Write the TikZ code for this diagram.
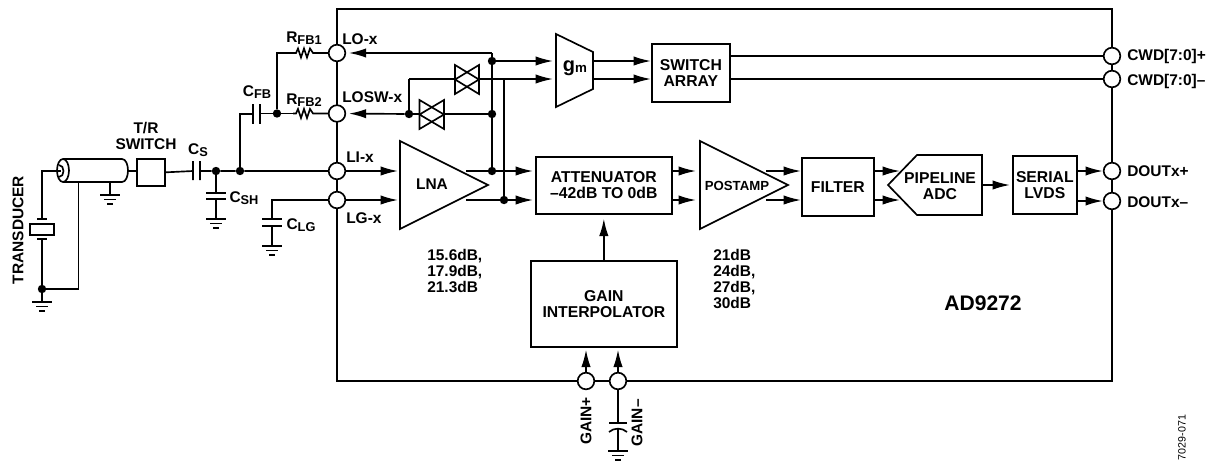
\documentclass[tikz,border=0pt]{standalone}
\usepackage{fontspec}
\setmainfont{Liberation Sans}
\usetikzlibrary{arrows.meta}
\tikzset{
 x=0.75pt,y=-0.75pt,
 wire/.style={line width=1.25pt,line join=miter},
 arr/.style={wire,-{Latex[length=13pt,width=7pt]}},
 blockbox/.style={draw,line width=1.25pt,inner sep=0,anchor=north west,align=center,font=\fontsize{11.8}{12}\selectfont\bfseries},
 pin/.style={circle,draw,fill=white,line width=1.25pt,minimum size=12.5pt,inner sep=0},
 dotn/.style={circle,fill=black,minimum size=6.3pt,inner sep=0},
 lab/.style={font=\fontsize{11.6}{12}\selectfont\bfseries,inner sep=0,align=center},
 labl/.style={lab,anchor=west,align=left},
 gnd/.pic={\draw[wire] (-10,0)--(10,0) (-6,4.5)--(6,4.5) (-3,9)--(3,9);},
}
\newcommand{\sbs}[2]{#1\raisebox{-0.25ex}{\fontsize{9.6}{9.6}\selectfont\bfseries #2}}
\begin{document}
\begin{tikzpicture}
\useasboundingbox (0,0) rectangle (1209,461);
% chip outline
\draw[line width=1.75pt] (337,9) -- (1112,9) -- (1112,381) -- (337,381) -- cycle;

% blocks
\draw[wire,fill=white] (400,141) coordinate (lnaT) -- (488,185) coordinate (lnaO) -- (400,229) coordinate (lnaB) -- cycle;
\node[lab] (lna) at (432,184) {LNA};
\draw[wire,fill=white] (700,141) -- (788,185) -- (700,229) -- cycle;
\node[lab,font=\fontsize{9.9}{10}\selectfont\bfseries] (postamp) at (737,186) {POSTAMP};
\draw[wire,fill=white] (556,34) -- (593,52) -- (593,89) -- (556,107) -- cycle;
\node[lab] (gm) at (575,68) {\fontsize{15}{15}\selectfont g\raisebox{-0.1ex}{\fontsize{10}{10}\selectfont\bfseries m}};
\node[blockbox,minimum width=58.5pt,minimum height=43.5pt] (swarr) at (651,43) {SWITCH\\ARRAY};
\node[blockbox,minimum width=102pt,minimum height=42.75pt] (att) at (535,156) {ATTENUATOR\\–42dB TO 0dB};
\node[blockbox,minimum width=54pt,minimum height=43.5pt] (filter) at (801,157) {FILTER};
\draw[wire,fill=white] (888,185) -- (917,155) -- (982,155) -- (982,215) -- (917,215) -- cycle;
\node[lab,font=\fontsize{11.8}{12}\selectfont\bfseries] (adc) at (940,186) {PIPELINE\\ADC};
\node[blockbox,minimum width=48pt,minimum height=43.5pt] (lvds) at (1012,155) {SERIAL\\LVDS};
\node[blockbox,minimum width=109.5pt,minimum height=64.5pt] (gain) at (530,260) {GAIN\\INTERPOLATOR};

% pins
\node[pin] (lo) at (337,53) {};
\node[pin] (losw) at (337,113.5) {};
\node[pin] (li) at (337,171) {};
\node[pin] (lg) at (337,200) {};
\node[pin] (cwdp) at (1112,56) {};
\node[pin] (cwdm) at (1112,79) {};
\node[pin] (doutp) at (1112,171) {};
\node[pin] (doutm) at (1112,201) {};
\node[pin] (gp) at (586,381) {};
\node[pin] (gm2) at (618,381) {};

% junctions
\node[dotn] (d216) at (216,171) {};
\node[dotn] (d240) at (240,171) {};
\node[dotn] (d277) at (277,113.5) {};
\node[dotn] (d409) at (409,114) {};
\node[dotn] (d492a) at (492,61) {};
\node[dotn] (d492b) at (492,114) {};
\node[dotn] (d492c) at (492,171) {};
\node[dotn] (d504) at (504,200) {};
\node[dotn] (d42) at (42,289) {};

% transducer and coax
\draw[wire] (136,171) -- (128,171);
\draw[wire] (69,159) -- (122,159) .. controls (126,159) and (128,165) .. (128,170.5) .. controls (128,176) and (126,182) .. (122,182) -- (63,182);
\draw[wire,fill=white] (63,170.5) ellipse[x radius=6,y radius=11.5];
\draw[wire] (63,159) -- (69,159);
\draw[wire] (42,219) |- (61,171);
\draw[wire] (59,165) .. controls (65,165) and (65,177) .. (59,177);
\draw[wire] (78.5,182) -- (78.5,289) -- (d42);
\draw[wire] (110,182) -- (110,195);
\pic at (110,195) {gnd};
\draw[wire] (37,219) -- (47,219) (37,239) -- (47,239);
\draw[wire] (30,224) rectangle (54,235);
\draw[wire] (42,239) -- (d42) -- (42,302);
\pic at (42,302) {gnd};
\node[lab,rotate=90] (tdlabel) at (18,230) {TRANSDUCER};
\node[blockbox,minimum width=21pt,minimum height=20.25pt] (trsw) at (136,158) {};
\node[lab] (trlabel) at (146,136) {T/R\\SWITCH};

% input caps
\draw[wire] (trsw.east) -- (193,171) (193,161) -- (193,180) (200,161) -- (200,180) (200,171) -- (d216) -- (d240) -- (li);
\draw[wire] (d216) -- (216,193) (206,193) -- (226,193) (206,199) -- (226,199) (216,199) -- (216,219);
\pic at (216,219) {gnd};
\draw[wire] (lg) -- (272,200) -- (272,219) (262,219) -- (282,219) (262,226) -- (282,226) (272,226) -- (272,246);
\pic at (272,246) {gnd};
\node[lab] (cs) at (198,150) {\sbs{C}{S}};
\node[lab] (csh) at (244,198) {\sbs{C}{SH}};
\node[lab] (clg) at (301,225) {\sbs{C}{LG}};

% feedback
\draw[wire] (d240) |- (253,114) (253,104) -- (253,124) (260,104) -- (260,124) (260,113.5) -- (d277) -- (293,113.5);
\draw[wire] (293,113.5) -- (296,113.5) -- (298,109) -- (301,118) -- (304,109) -- (307,118) -- (310,109) -- (313,113.5) -- (losw);
\draw[wire] (d277) |- (293,53) -- (296,53) -- (298,48.5) -- (301,57.5) -- (304,48.5) -- (307,57.5) -- (310,48.5) -- (313,53) -- (lo);
\node[lab] (rfb1) at (304,38) {\sbs{R}{FB1}};
\node[lab] (rfb2) at (304,100) {\sbs{R}{FB2}};
\node[lab] (cfb) at (257,92) {\sbs{C}{FB}};

% pin labels
\node[labl] (lolab) at (342,39) {LO-x};
\node[labl] (loswlab) at (342,97) {LOSW-x};
\node[labl] (lilab) at (346,157) {LI-x};
\node[labl] (lglab) at (346,218) {LG-x};

% left-side signal lines
\draw[arr] (li) -- (398,171);
\draw[arr] (lg) -- (398,200);
\draw[wire] (d492c) -- (d492b) -- (d492a) -- (492,53);
\draw[arr,shorten >=2pt] (492,53) -- (lo);
\draw[arr,shorten >=2pt] (d409) -- (losw);
\draw[wire] (d409) -- (409,79) coordinate (c409);
\draw[arr] (c409) -- (553,79);
\draw[arr] (d492a) -- (553,61);
\draw[wire] (d504) -- (504,79);
\draw[wire] (d409) -- (d492b);
% transmission gates
\draw[wire,fill=white] (455,65) -- (479,79.5) -- (455,94) -- cycle;
\draw[wire,fill=none] (479,65) -- (455,79.5) -- (479,94) -- cycle;
\draw[wire,fill=white] (419.5,100) -- (444,114.5) -- (419.5,129) -- cycle;
\draw[wire,fill=none] (444,100) -- (419.5,114.5) -- (444,129) -- cycle;

% through signal path
\draw[arr] (466,171) -- (533,171);
\draw[arr] (466,200) -- (533,200);
\draw[arr] (att.east |- 0,171) -- (696,171);
\draw[arr] (att.east |- 0,200) -- (696,200);
\draw[arr] (766,171) -- (filter.west |- 0,171);
\draw[arr] (766,200) -- (filter.west |- 0,200);
\draw[arr] (filter.east |- 0,171) -- (900,171);
\draw[arr] (filter.east |- 0,200) -- (900,200);
\draw[arr] (982,185) -- (1010,185);
\draw[arr] (lvds.east |- 0,171) -- (doutp);
\draw[arr] (lvds.east |- 0,201) -- (doutm);
\draw[arr] (593,61) -- (swarr.west |- 0,61);
\draw[arr] (593,79) -- (swarr.west |- 0,79);
\draw[wire] (swarr.east |- 0,56) -- (cwdp);
\draw[wire] (swarr.east |- 0,79) -- (cwdm);

% gain
\draw[arr,shorten >=3pt] (gain.north) -- (att.south);
\draw[arr,shorten >=1.5pt] (gp) -- (gp |- gain.south);
\draw[arr,shorten >=1.5pt] (gm2) -- (gm2 |- gain.south);
\draw[wire] (gm2) -- (618,423) (609,423) -- (627,423);
\draw[wire] (609,432) .. controls (614,427.5) and (622,427.5) .. (627,432);
\draw[wire] (618,429) -- (618,451);
\pic at (618,451) {gnd};
\node[lab,rotate=90] (gplab) at (586,421) {GAIN+};
\node[lab,rotate=90] (gmlab) at (637,423) {GAIN–};

% output labels
\node[labl] (l1) at (1127,56) {CWD[7:0]+};
\node[labl] (l2) at (1127,81) {CWD[7:0]–};
\node[labl] (l3) at (1127,171) {DOUTx+};
\node[labl] (l4) at (1127,202) {DOUTx–};
\node[labl,align=left] (lg1) at (427,271) {15.6dB,\\17.9dB,\\21.3dB};
\node[labl,align=left] (lg2) at (713,278.5) {21dB\\24dB,\\27dB,\\30dB};
\node[lab,font=\fontsize{15.8}{16}\selectfont\bfseries] (chip) at (983,303) {AD9272};
\node[lab,rotate=90,font=\fontsize{8}{8}\selectfont] (code) at (1182,437.5) {7029-071};
\end{tikzpicture}
\end{document}
